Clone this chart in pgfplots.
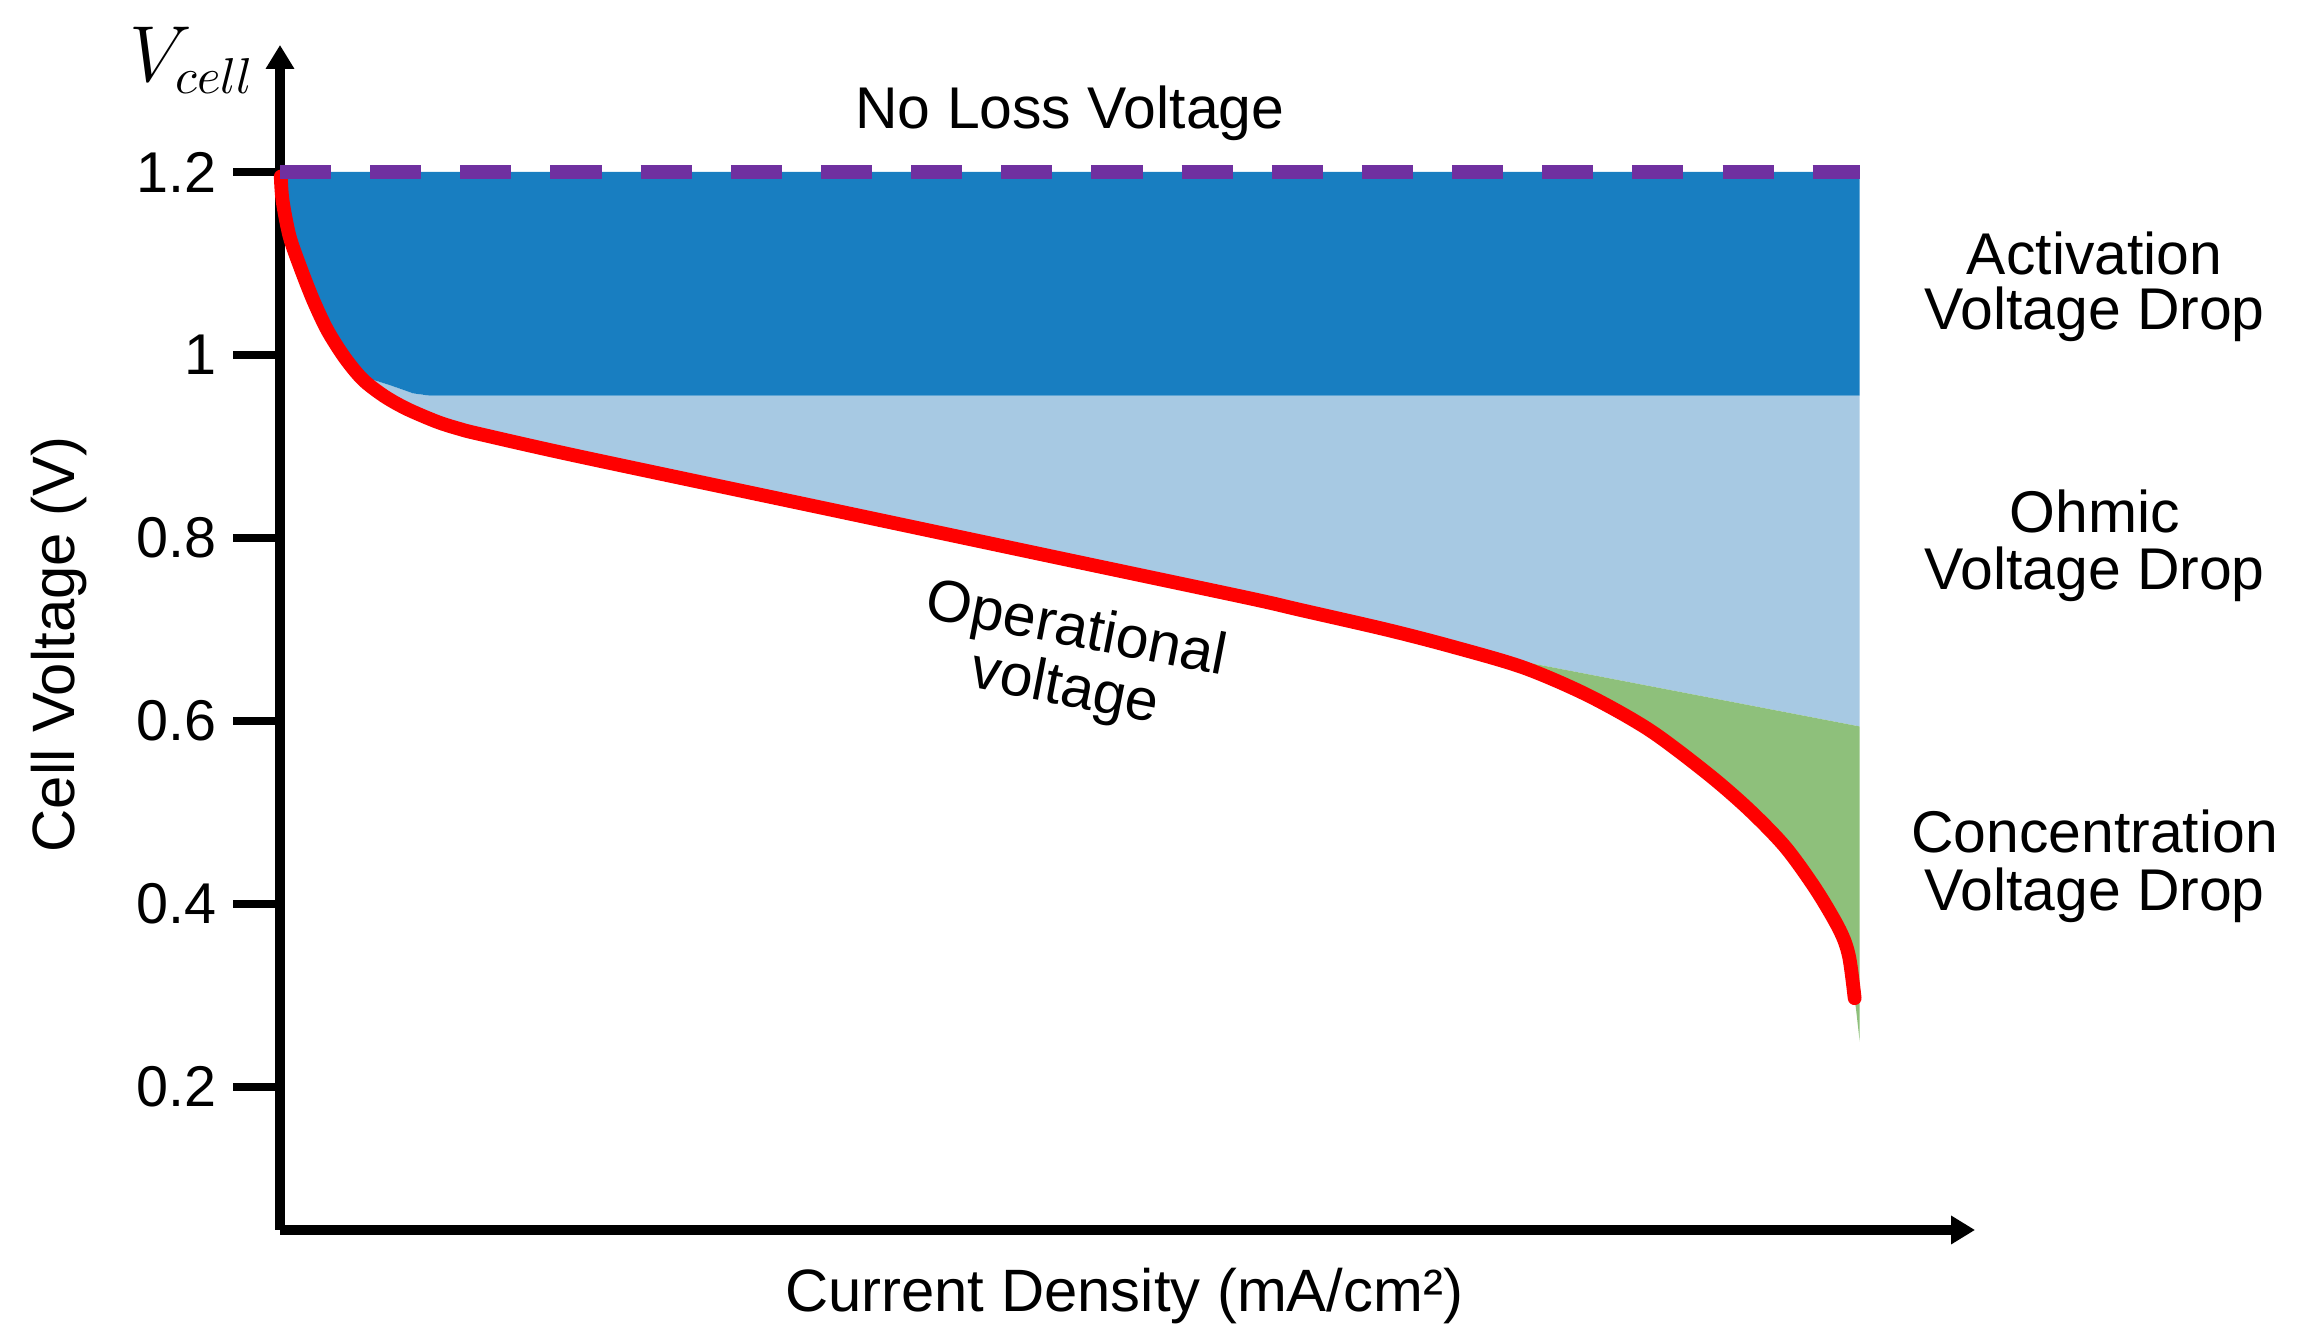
\documentclass[border=0pt]{standalone}
\usepackage{fontspec}
\setmainfont{Liberation Sans}
\usepackage{pgfplots}
\pgfplotsset{compat=1.18}
\usetikzlibrary{arrows.meta}

\definecolor{actblue}{RGB}{24,126,193}
\definecolor{ohmblue}{RGB}{167,201,227}
\definecolor{concgreen}{RGB}{142,192,123}
\definecolor{nolosspurple}{RGB}{112,48,160}

\begin{document}
\begin{tikzpicture}
\useasboundingbox (-60.87pt,-23.91pt) rectangle (439.13pt,267.39pt);
\begin{axis}[
  scale only axis, width=368.48pt, height=257.61pt,
  xmin=0, xmax=107.3, ymin=0.0437, ymax=1.3388,
  axis lines=left,
  axis line style={line width=2pt, -{Triangle[length=5.2pt,width=5.9pt]}},
  clip=false,
  xtick=\empty,
  ytick={0.2,0.4,0.6,0.8,1,1.2},
  yticklabels={0.2,0.4,0.6,0.8,1,1.2},
  tick align=outside,
  major tick length=10.2pt,
  every tick/.style={black, line width=1.8pt},
  yticklabel style={font=\fontsize{12.5}{15}\selectfont},
  xlabel={Current Density (mA/cm²)},
  ylabel={Cell Voltage (V)},
  every axis x label/.style={at={(axis description cs:0.498,-0.0684)}, anchor=base, font=\fontsize{13}{15}\selectfont},
  every axis y label/.style={at={(axis description cs:-0.1215,0.494)}, anchor=base, rotate=90, font=\fontsize{13}{15}\selectfont},
]
% ohmic drop (light blue)
\addplot[draw=none, fill=ohmblue] coordinates {
  (5.3,0.976) (6.6,0.955) (8.04,0.941) (9.94,0.927) (11.3,0.9195) (12.66,0.9135)
  (19,0.8889) (34.8,0.8312) (45.57,0.7918) (50.63,0.7733) (61.4,0.734)
  (64.56,0.7215) (70,0.700) (75,0.677) (100,0.594) (100,0.9555)
  (9.5,0.9555) (8.44,0.958) (6.96,0.967)
} -- cycle;
% activation drop (dark blue)
\addplot[draw=none, fill=actblue] coordinates {
  (0,1.2) (100,1.2) (100,0.9555) (9.5,0.9555) (8.44,0.958) (6.96,0.967)
  (5.3,0.976) (4.1,0.997) (3.0,1.027) (2.1,1.06) (1.27,1.0965) (0.6,1.13)
  (0.16,1.169)
} -- cycle;
% concentration drop (green)
\addplot[draw=none, fill=concgreen] coordinates {
  (75,0.677) (100,0.594) (100,0.2495) (99.8,0.28) (99.68,0.297)
  (99.32,0.343) (98.73,0.3716) (97.25,0.4153) (95.3,0.462) (93,0.503)
  (90.4,0.542) (86.7,0.590) (82.8,0.628) (78.7,0.6585)
} -- cycle;
% operational voltage
\addplot[red, line width=3pt, line cap=round, line join=round, smooth, tension=0.5] coordinates {
  (0.05,1.195) (0.16,1.169) (0.6,1.13) (1.27,1.0965) (2.1,1.06) (3.0,1.027)
  (4.1,0.997) (5.25,0.973) (6.6,0.955) (8.04,0.941) (9.94,0.927) (11.3,0.9195)
  (12.66,0.9135) (19,0.8889) (34.8,0.8312) (45.57,0.7918) (50.63,0.7733)
  (61.4,0.734) (64.56,0.7215) (70,0.700) (74.05,0.682) (78.7,0.6585)
  (82.8,0.628) (86.7,0.590) (90.4,0.542) (93,0.503) (95.3,0.462)
  (97.25,0.4153) (98.73,0.3716) (99.32,0.343) (99.68,0.297)
};
% no loss voltage
\addplot[nolosspurple, line width=2.9pt, dash pattern=on 11.1pt off 8.5pt] coordinates {(0,1.2) (100,1.2)};

\node[anchor=base west, inner sep=0pt, font=\fontsize{16}{18}\selectfont] at (axis cs:-9.56,1.2984) {$V_{cell}$};
\node[anchor=base, font=\fontsize{12.8}{15}\selectfont] at (axis cs:50,1.248) {No Loss Voltage};
\node[anchor=base, font=\fontsize{12.8}{15}\selectfont] at (axis cs:114.87,1.0874) {Activation};
\node[anchor=base, font=\fontsize{12.8}{15}\selectfont] at (axis cs:114.87,1.0273) {Voltage Drop};
\node[anchor=base, font=\fontsize{12.8}{15}\selectfont] at (axis cs:114.87,0.806) {Ohmic};
\node[anchor=base, font=\fontsize{12.8}{15}\selectfont] at (axis cs:114.87,0.7432) {Voltage Drop};
\node[anchor=base, font=\fontsize{12.8}{15}\selectfont] at (axis cs:114.87,0.4563) {Concentration};
\node[anchor=base, font=\fontsize{12.8}{15}\selectfont] at (axis cs:114.87,0.3934) {Voltage Drop};
\node[anchor=center, rotate=-11, align=center, inner sep=0pt,
      font=\fontsize{12.8}{11.9}\selectfont]
  at (axis cs:50.04,0.6659) {Operational\\voltage};
\end{axis}
\end{tikzpicture}
\end{document}
